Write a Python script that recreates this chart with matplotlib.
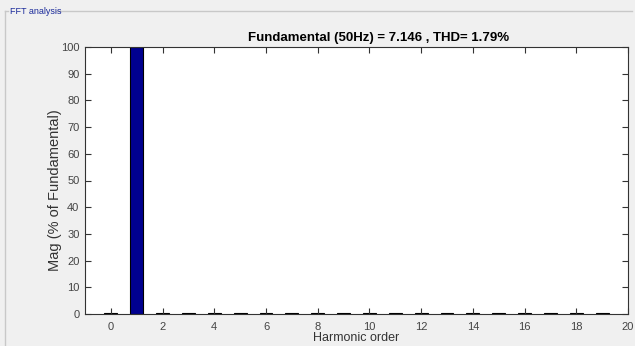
import matplotlib
matplotlib.use("Agg")
import matplotlib.pyplot as plt
from matplotlib.lines import Line2D

# harmonic spectrum, % of fundamental
harmonic_order = list(range(0, 20))
magnitude = [0.35, 100.0, 0.45, 0.30, 0.40, 0.30, 0.40, 0.30, 0.40, 0.30,
             0.40, 0.30, 0.40, 0.30, 0.40, 0.30, 0.40, 0.30, 0.40, 0.30]
x_ticks = list(range(0, 21, 2))
y_ticks = list(range(0, 101, 10))
title = "Fundamental (50Hz) = 7.146 , THD= 1.79%"

plt.rcParams["font.family"] = ["Liberation Sans Narrow", "Liberation Sans", "DejaVu Sans"]

fig = plt.figure(figsize=(6.35, 3.46), dpi=100)
fig.patch.set_facecolor("#f0f0f0")

# group box frame
box = "#c8c8c8"
fig.add_artist(Line2D([5 / 635, 5 / 635], [0, 1 - 11 / 346], color=box, lw=1))
fig.add_artist(Line2D([5 / 635, 8 / 635], [1 - 11 / 346, 1 - 11 / 346], color=box, lw=1))
fig.add_artist(Line2D([56 / 635, 632 / 635], [1 - 11 / 346, 1 - 11 / 346], color=box, lw=1))
fig.text(10 / 635, 1 - 12 / 346, "FFT analysis", color="#1a2a9a", fontsize=6.5,
         va="center", ha="left")

ax = fig.add_axes([85 / 635, 1 - 314 / 346, 543 / 635, 267 / 346])
ax.set_facecolor("white")
ax.bar(harmonic_order, magnitude, width=0.5, color="#00008f", edgecolor="black", linewidth=0.8)

ax.set_xlim(-1, 20)
ax.set_ylim(0, 100)
ax.set_xticks(x_ticks)
ax.set_yticks(y_ticks)
ax.tick_params(direction="in", top=True, right=True, length=4, width=0.8,
               labelsize=8, colors="#333333", labelcolor="#444444", pad=6)
ax.tick_params(axis="y", pad=4)
for s in ax.spines.values():
    s.set_color("#333333")
    s.set_linewidth(0.8)

ax.set_title(title, fontsize=9.5, fontweight="bold", pad=4, x=0.54)
ax.set_xlabel("Harmonic order", fontsize=9, color="#333333", labelpad=0)
ax.set_ylabel("Mag (% of Fundamental)", fontsize=10.5, color="#333333")
ax.yaxis.set_label_coords(-0.043, 0.464)

fig.savefig("out.png", dpi=100, facecolor=fig.get_facecolor())
